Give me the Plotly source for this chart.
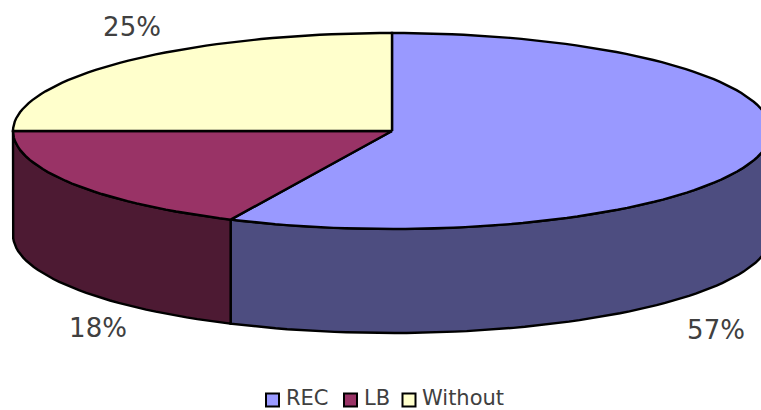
import numpy as np
import plotly.graph_objects as go

# Share of each category, in percent
categories = ["REC", "LB", "Without"]
shares = [57, 18, 25]
top_colors = ["#9999FF", "#993366", "#FFFFCC"]
wall_colors = ["#4D4D80", "#4D1A33", "#808066"]

# Tilted disc geometry on a pixel-sized plotting area
CX, CY, RX, RY, DEPTH = 392, 131, 379, 98, 104
FONT = "DejaVu Sans"
TEXT = "#404040"
label_spots = {"REC": (716, 332), "LB": (98, 330), "Without": (132, 29)}


def rim(a0, a1, drop=0.0, n=200):
    """Points along the rim, angles in degrees clockwise from 12 o'clock."""
    t = np.radians(np.linspace(a0, a1, max(int(n * (a1 - a0) / 360), 2)))
    return CX + RX * np.sin(t), CY - RY * np.cos(t) + drop


fig = go.Figure()
edges = np.cumsum([0] + shares) * 3.6

# Outer walls: only the front half of the rim (90 to 270 degrees) is visible
for i, name in enumerate(categories):
    a0, a1 = max(edges[i], 90), min(edges[i + 1], 270)
    if a1 <= a0:
        continue
    xu, yu = rim(a0, a1)
    xl, yl = rim(a0, a1, DEPTH)
    fig.add_trace(go.Scatter(
        x=np.r_[xu, xl[::-1], xu[0]], y=np.r_[yu, yl[::-1], yu[0]],
        mode="lines", fill="toself", fillcolor=wall_colors[i],
        line=dict(color="black", width=2.4), showlegend=False, hoverinfo="skip"))

# Top face wedges
for i, name in enumerate(categories):
    xr, yr = rim(edges[i], edges[i + 1])
    fig.add_trace(go.Scatter(
        x=np.r_[CX, xr, CX], y=np.r_[CY, yr, CY],
        mode="lines", fill="toself", fillcolor=top_colors[i],
        line=dict(color="black", width=2.4), name=name, showlegend=False,
        hoverinfo="name"))

# Percentage labels
fig.add_trace(go.Scatter(
    x=[label_spots[c][0] for c in categories],
    y=[label_spots[c][1] for c in categories],
    text=[f"{v}%" for v in shares], mode="text", textposition="middle center",
    textfont=dict(family=FONT, size=26, color=TEXT),
    showlegend=False, hoverinfo="skip", cliponaxis=False))

# Legend row
swatch_x = [272.5, 350.5, 409]
text_x = [286, 364, 422]
fig.add_trace(go.Scatter(
    x=swatch_x, y=[400] * 3, mode="markers", showlegend=False, hoverinfo="skip",
    marker=dict(symbol="square", size=13, color=top_colors,
                line=dict(color="black", width=2))))
fig.add_trace(go.Scatter(
    x=text_x, y=[400] * 3, text=categories, mode="text",
    textposition="middle right",
    textfont=dict(family=FONT, size=21, color=TEXT),
    showlegend=False, hoverinfo="skip"))

fig.update_layout(
    width=761, height=410, margin=dict(l=0, r=0, t=0, b=0),
    paper_bgcolor="white", plot_bgcolor="white",
    xaxis=dict(range=[0, 761], visible=False, fixedrange=True),
    yaxis=dict(range=[410, 0], visible=False, fixedrange=True),
)
fig.write_html("out.html", config={"displayModeBar": False})
